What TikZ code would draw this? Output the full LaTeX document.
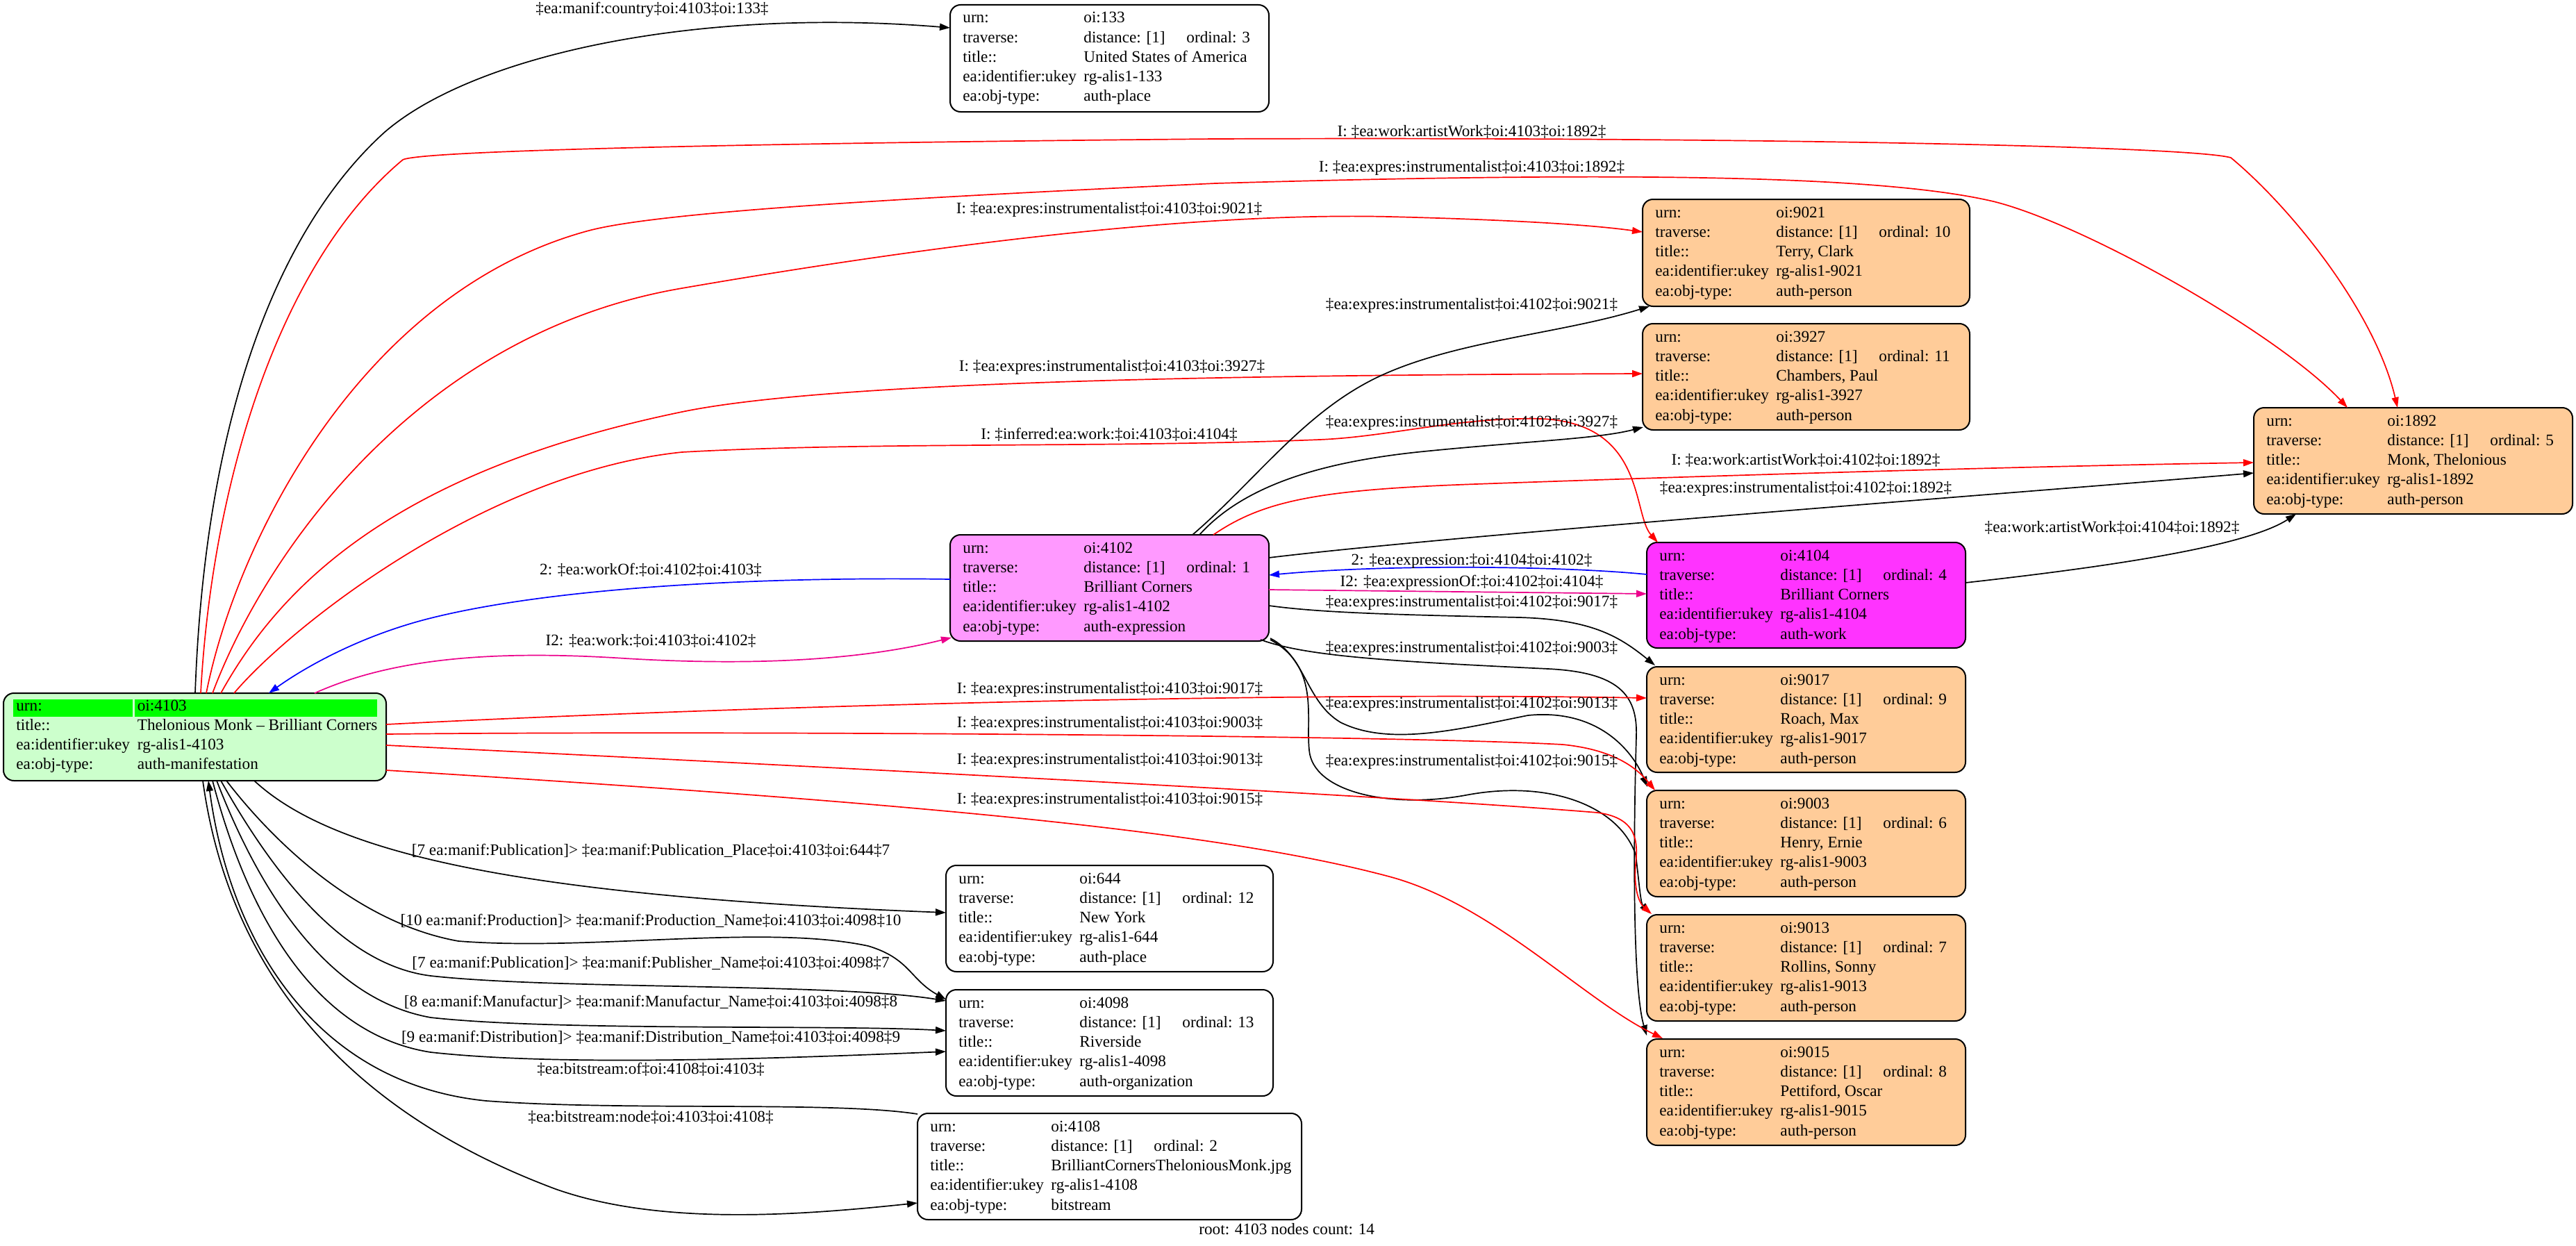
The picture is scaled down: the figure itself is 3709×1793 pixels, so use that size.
\documentclass[tikz,border=0pt]{standalone}
\usepackage{fontspec}
\setmainfont{Liberation Serif}
\usetikzlibrary{arrows.meta,calc}
\definecolor{gvorange}{HTML}{FFCC99}
\definecolor{gvpink}{HTML}{FF99FF}
\definecolor{gvmag}{HTML}{FF33FF}
\definecolor{gvlgreen}{HTML}{CCFFCC}
\definecolor{gvgreen}{HTML}{00FF00}
\newcommand\gvfont{\fontsize{11.6pt}{14.125pt}\selectfont}
\newcommand\mkbox[6]{%
  \pgfmathsetmacro\rbcx{(#2+#4)/2}%
  \pgfmathsetmacro\rbcy{(#3+#5)/2}%
  \pgfmathsetmacro\rbw{(#4-#2)*0.5}%
  \pgfmathsetmacro\rbh{(#5-#3)*0.5}%
  \node[recbox,fill=#6,minimum width=\rbw pt,minimum height=\rbh pt] (#1) at (\rbcx,\rbcy) {};}
\newcommand\mkrows[6]{%
  \node[rtab] (#1t) at ($(#1.north west)+(18,26)$) {\begin{tabular}[t]{@{}p{87pt}@{}l@{}}urn: & #2\\ traverse: & \makebox[74pt][l]{distance: [1]}ordinal: #3\\ title:: & #4\\ ea:identifier:ukey & #5\\ ea:obj-type: & #6\end{tabular}};}
\begin{document}
\begin{tikzpicture}[x=0.5pt,y=-0.5pt,
  recbox/.style={draw,line width=1pt,rounded corners=7.5pt,inner sep=0pt,outer sep=0pt},
  rtab/.style={anchor=base west,inner sep=0pt,font=\gvfont},
  lbl/.style={inner sep=0pt,font=\gvfont},
  gve/.style={line width=0.85pt,-{Triangle[length=7.5pt,width=5pt]}},
  gvr/.style={gve,red}, gvb/.style={gve,blue}, gvm/.style={gve,magenta}, gvk/.style={gve,black}]
\useasboundingbox (0,0) rectangle (3709,1793);
\fill[white] (0,0) rectangle (3709,1793);

% ---------- nodes ----------
\mkbox{n133}{1368}{7}{1827}{161}{white}
\mkrows{n133}{oi:133}{3}{United States of America}{rg-alis1-133}{auth-place}
\mkbox{n9021}{2365}{287}{2836}{441}{gvorange}
\mkrows{n9021}{oi:9021}{10}{Terry, Clark}{rg-alis1-9021}{auth-person}
\mkbox{n3927}{2365}{466}{2836}{619}{gvorange}
\mkrows{n3927}{oi:3927}{11}{Chambers, Paul}{rg-alis1-3927}{auth-person}
\mkbox{n1892}{3245}{587}{3704}{740}{gvorange}
\mkrows{n1892}{oi:1892}{5}{Monk, Thelonious}{rg-alis1-1892}{auth-person}
\mkbox{n4102}{1368}{770}{1827}{923}{gvpink}
\mkrows{n4102}{oi:4102}{1}{Brilliant Corners}{rg-alis1-4102}{auth-expression}
\mkbox{n4104}{2371}{781}{2830}{933}{gvmag}
\mkrows{n4104}{oi:4104}{4}{Brilliant Corners}{rg-alis1-4104}{auth-work}
\mkbox{n9017}{2371}{960}{2830}{1112}{gvorange}
\mkrows{n9017}{oi:9017}{9}{Roach, Max}{rg-alis1-9017}{auth-person}
\mkbox{n9003}{2371}{1138}{2830}{1291}{gvorange}
\mkrows{n9003}{oi:9003}{6}{Henry, Ernie}{rg-alis1-9003}{auth-person}
\mkbox{n9013}{2371}{1317}{2830}{1470}{gvorange}
\mkrows{n9013}{oi:9013}{7}{Rollins, Sonny}{rg-alis1-9013}{auth-person}
\mkbox{n9015}{2371}{1496}{2830}{1649}{gvorange}
\mkrows{n9015}{oi:9015}{8}{Pettiford, Oscar}{rg-alis1-9015}{auth-person}
\mkbox{n644}{1362}{1246}{1833}{1399}{white}
\mkrows{n644}{oi:644}{12}{New York}{rg-alis1-644}{auth-place}
\mkbox{n4098}{1362}{1425}{1833}{1578}{white}
\mkrows{n4098}{oi:4098}{13}{Riverside}{rg-alis1-4098}{auth-organization}
\mkbox{n4108}{1321}{1603}{1874}{1756}{white}
\mkrows{n4108}{oi:4108}{2}{BrilliantCornersTheloniousMonk.jpg}{rg-alis1-4108}{bitstream}

\mkbox{n4103}{5}{998}{556}{1124}{gvlgreen}
\fill[gvgreen] ($(n4103.north west)+(14,9)$) rectangle ($(n4103.north west)+(185.6,34)$);
\fill[gvgreen] ($(n4103.north west)+(189,9)$) rectangle ($(n4103.north west)+(538,34)$);
\node[rtab] (n4103t) at ($(n4103.north west)+(18,25)$) {\begin{tabular}[t]{@{}p{87.25pt}@{}l@{}}urn: & oi:4103\\ title:: & Thelonious Monk – Brilliant Corners\\ ea:identifier:ukey & rg-alis1-4103\\ ea:obj-type: & auth-manifestation\end{tabular}};

% ---------- edges ----------
% E1 country
\draw[gvk] ($(n4103.north west)+(276,0)$) .. controls (295,600) and (400,330) .. (553,191) .. controls (680,80) and (1000,10) .. ($(n133.north west)+(0,33)$);
% E2 artistWork 4103->1892
\draw[gvr] ($(n4103.north west)+(284,0)$) .. controls (305,700) and (400,380) .. (580,230) .. controls (610,215) and (1200,205) .. (1750,200) .. controls (2500,197) and (3150,210) .. (3212,227) .. controls (3300,300) and (3420,450) .. ($(n1892.north west)+(207,0)$);
% E3 expres 4103->1892
\draw[gvr] ($(n4103.north west)+(292,0)$) .. controls (340,780) and (520,420) .. (848,332) .. controls (950,305) and (1300,285) .. (1750,264) .. controls (2300,248) and (2700,250) .. (2870,290) .. controls (3000,322) and (3280,480) .. ($(n1892.north west)+(135,0)$);
% E4 4103->9021
\draw[gvr] ($(n4103.north west)+(301,0)$) .. controls (380,800) and (600,480) .. (982,415) .. controls (1300,360) and (1700,305) .. (2000,312) .. controls (2200,317) and (2300,325) .. ($(n9021.north west)+(0,47)$);
% E5 4103->3927
\draw[gvr] ($(n4103.north west)+(313,0)$) .. controls (400,850) and (560,680) .. (982,593) .. controls (1200,548) and (1800,540) .. ($(n3927.north west)+(0,72)$);
% E6 inferred 4103->4104
\draw[gvr] ($(n4103.north west)+(332,0)$) .. controls (420,900) and (700,680) .. (982,651) .. controls (1250,636) and (1600,645) .. (1900,633) .. controls (2000,629) and (2100,600) .. (2220,603) .. controls (2370,610) and (2350,740) .. ($(n4104.north west)+(16,0)$);
% E7 blue workOf 4102->4103
\draw[gvb] ($(n4102.north west)+(0,64)$) .. controls (1100,830) and (800,845) .. (620,890) .. controls (520,915) and (440,960) .. ($(n4103.north west)+(382,0)$);
% E8 magenta work 4103->4102
\draw[gvm] ($(n4103.north west)+(448,0)$) .. controls (560,950) and (700,935) .. (900,948) .. controls (1100,960) and (1250,948) .. ($(n4102.north west)+(2,148)$);
% E9 4102->9021
\draw[gvk] ($(n4102.north west)+(349,0)$) .. controls (1810,690) and (1880,590) .. (1990,540) .. controls (2100,490) and (2250,480) .. ($(n9021.south west)+(10,0)$);
% E10 4102->3927
\draw[gvk] ($(n4102.north west)+(359,0)$) .. controls (1790,700) and (1900,665) .. (2050,650) .. controls (2200,635) and (2300,632) .. ($(n3927.south west)+(1,-4)$);
% E11 red artistWork 4102->1892
\draw[gvr] ($(n4102.north west)+(379,0)$) .. controls (1820,720) and (1900,705) .. (2125,697) .. controls (2600,680) and (3000,670) .. ($(n1892.north west)+(0,79)$);
% E12 4102->1892
\draw[gvk] ($(n4102.north east)+(0,33)$) .. controls (2100,770) and (2900,710) .. ($(n1892.north west)+(0,94)$);
% E13 blue expression 4104->4102
\draw[gvb] ($(n4104.north west)+(0,46)$) .. controls (2250,815) and (2000,812) .. ($(n4102.north east)+(0,58)$);
% E14 magenta expressionOf 4102->4104
\draw[gvm] ($(n4102.north east)+(0,79)$) .. controls (2000,851) and (2200,853) .. ($(n4104.north west)+(0,74)$);
% E15 4102->9017
\draw[gvk] ($(n4102.north east)+(0,102)$) .. controls (1900,882) and (2000,885) .. (2188,889) .. controls (2290,892) and (2330,915) .. ($(n9017.north west)+(12,-2)$);
% E16 4102 -> 9015
\draw[gvk] ($(n4102.south east)+(-12,-2)$) .. controls (1880,945) and (2000,952) .. (2229,963) .. controls (2330,968) and (2358,1000) .. (2356,1060) .. controls (2352,1200) and (2350,1420) .. ($(n9015.north west)+(0,-5)$);
% E17 4102 -> 9003
\draw[gvk] ($(n4102.south east)+(2,-4)$) .. controls (1880,945) and (1880,1010) .. (1930,1040) .. controls (2000,1075) and (2100,1050) .. (2200,1030) .. controls (2300,1020) and (2350,1080) .. ($(n9003.north west)+(1,-5)$);
% E18 4102 -> 9013
\draw[gvk] ($(n4102.south east)+(2,-2)$) .. controls (1900,960) and (1880,1030) .. (1885,1080) .. controls (1890,1140) and (2000,1165) .. (2110,1145) .. controls (2230,1122) and (2330,1160) .. (2355,1230) .. controls (2360,1270) and (2362,1300) .. ($(n9013.north west)+(4,-2)$);
% E19 red 4103->9017
\draw[gvr] ($(n4103.north east)+(0,45)$) .. controls (1000,1020) and (1800,995) .. ($(n9017.north west)+(0,45)$);
% E20 red 4103->9003
\draw[gvr] ($(n4103.north east)+(0,59)$) .. controls (1000,1052) and (2000,1058) .. (2250,1072) .. controls (2330,1080) and (2360,1110) .. ($(n9003.north west)+(12,0)$);
% E21 red 4103->9013
\draw[gvr] ($(n4103.north east)+(0,75)$) .. controls (1100,1100) and (2000,1145) .. (2300,1170) .. controls (2360,1178) and (2358,1215) .. (2355,1245) .. controls (2352,1280) and (2360,1300) .. ($(n9013.north west)+(7,-1)$);
% E22 red 4103->9015
\draw[gvr] ($(n4103.north east)+(0,111)$) .. controls (1300,1155) and (1750,1195) .. (2000,1262) .. controls (2150,1302) and (2280,1440) .. ($(n9015.north west)+(23,-1)$);
% E23 4104->1892
\draw[gvk] ($(n4104.north east)+(0,58)$) .. controls (3000,820) and (3230,790) .. ($(n1892.south west)+(61,0)$);
% E24 4103->644
\draw[gvk] ($(n4103.south west)+(361,0)$) .. controls (480,1230) and (750,1290) .. ($(n644.north west)+(0,68)$);
% E25 production
\draw[gvk] ($(n4103.south west)+(321,0)$) .. controls (400,1220) and (520,1330) .. (660,1355) .. controls (850,1370) and (1100,1330) .. (1250,1362) .. controls (1310,1380) and (1310,1410) .. ($(n4098.north west)+(0,14)$);
% E26 publisher
\draw[gvk] ($(n4103.south west)+(313,0)$) .. controls (400,1270) and (500,1390) .. (620,1405) .. controls (800,1425) and (1200,1415) .. ($(n4098.north west)+(0,16)$);
% E27 manufactur
\draw[gvk] ($(n4103.south west)+(307,0)$) .. controls (380,1300) and (480,1440) .. (620,1465) .. controls (800,1485) and (1200,1475) .. ($(n4098.north west)+(0,59)$);
% E28 distribution
\draw[gvk] ($(n4103.south west)+(301,0)$) .. controls (360,1330) and (460,1490) .. (620,1515) .. controls (800,1535) and (1100,1525) .. ($(n4098.north west)+(0,89)$);
% E29 bitstream:of 4108->4103
\draw[gvk] ($(n4108.north west)+(0,1)$) .. controls (1200,1585) and (900,1600) .. (700,1585) .. controls (450,1560) and (330,1350) .. ($(n4103.south west)+(295,0)$);
% E30 bitstream:node 4103->4108
\draw[gvk] ($(n4103.south west)+(287,0)$) .. controls (330,1400) and (500,1600) .. (800,1712) .. controls (950,1765) and (1150,1750) .. ($(n4108.north west)+(0,129)$);

% ---------- labels ----------
\node[lbl] (l1) at (939,14) {‡ea:manif:country‡oi:4103‡oi:133‡};
\node[lbl] (l2) at (2119,190) {I: ‡ea:work:artistWork‡oi:4103‡oi:1892‡};
\node[lbl] (l3) at (2119,242) {I: ‡ea:expres:instrumentalist‡oi:4103‡oi:1892‡};
\node[lbl] (l4) at (1597,302) {I: ‡ea:expres:instrumentalist‡oi:4103‡oi:9021‡};
\node[lbl] (l5) at (1601,529) {I: ‡ea:expres:instrumentalist‡oi:4103‡oi:3927‡};
\node[lbl] (l6) at (1597,626) {I: ‡inferred:ea:work:‡oi:4103‡oi:4104‡};
\node[lbl] (l7) at (937,821) {2: ‡ea:workOf:‡oi:4102‡oi:4103‡};
\node[lbl] (l8) at (937,923) {I2: ‡ea:work:‡oi:4103‡oi:4102‡};
\node[lbl] (l9) at (2119,440) {‡ea:expres:instrumentalist‡oi:4102‡oi:9021‡};
\node[lbl] (l10) at (2119,609) {‡ea:expres:instrumentalist‡oi:4102‡oi:3927‡};
\node[lbl] (l11) at (2600,663) {I: ‡ea:work:artistWork‡oi:4102‡oi:1892‡};
\node[lbl] (l12) at (2600,704) {‡ea:expres:instrumentalist‡oi:4102‡oi:1892‡};
\node[lbl] (l13) at (2119,808) {2: ‡ea:expression:‡oi:4104‡oi:4102‡};
\node[lbl] (l14) at (2119,839) {I2: ‡ea:expressionOf:‡oi:4102‡oi:4104‡};
\node[lbl] (l15) at (2119,868) {‡ea:expres:instrumentalist‡oi:4102‡oi:9017‡};
\node[lbl] (l16) at (2119,934) {‡ea:expres:instrumentalist‡oi:4102‡oi:9003‡};
\node[lbl] (l17) at (2119,1014) {‡ea:expres:instrumentalist‡oi:4102‡oi:9013‡};
\node[lbl] (l18) at (2119,1097) {‡ea:expres:instrumentalist‡oi:4102‡oi:9015‡};
\node[lbl] (l19) at (1598,993) {I: ‡ea:expres:instrumentalist‡oi:4103‡oi:9017‡};
\node[lbl] (l20) at (1598,1042) {I: ‡ea:expres:instrumentalist‡oi:4103‡oi:9003‡};
\node[lbl] (l21) at (1598,1095) {I: ‡ea:expres:instrumentalist‡oi:4103‡oi:9013‡};
\node[lbl] (l22) at (1598,1152) {I: ‡ea:expres:instrumentalist‡oi:4103‡oi:9015‡};
\node[lbl] (l23) at (3041,760) {‡ea:work:artistWork‡oi:4104‡oi:1892‡};
\node[lbl] (l24) at (937,1225) {[7 ea:manif:Publication]> ‡ea:manif:Publication\_Place‡oi:4103‡oi:644‡7};
\node[lbl] (l25) at (937,1326) {[10 ea:manif:Production]> ‡ea:manif:Production\_Name‡oi:4103‡oi:4098‡10};
\node[lbl] (l26) at (937,1387) {[7 ea:manif:Publication]> ‡ea:manif:Publisher\_Name‡oi:4103‡oi:4098‡7};
\node[lbl] (l27) at (937,1443) {[8 ea:manif:Manufactur]> ‡ea:manif:Manufactur\_Name‡oi:4103‡oi:4098‡8};
\node[lbl] (l28) at (937,1494) {[9 ea:manif:Distribution]> ‡ea:manif:Distribution\_Name‡oi:4103‡oi:4098‡9};
\node[lbl] (l29) at (937,1540) {‡ea:bitstream:of‡oi:4108‡oi:4103‡};
\node[lbl] (l30) at (937,1609) {‡ea:bitstream:node‡oi:4103‡oi:4108‡};
\node[lbl,anchor=base west] (lroot) at (1726,1777) {root: 4103 nodes count: 14};
\end{tikzpicture}
\end{document}
